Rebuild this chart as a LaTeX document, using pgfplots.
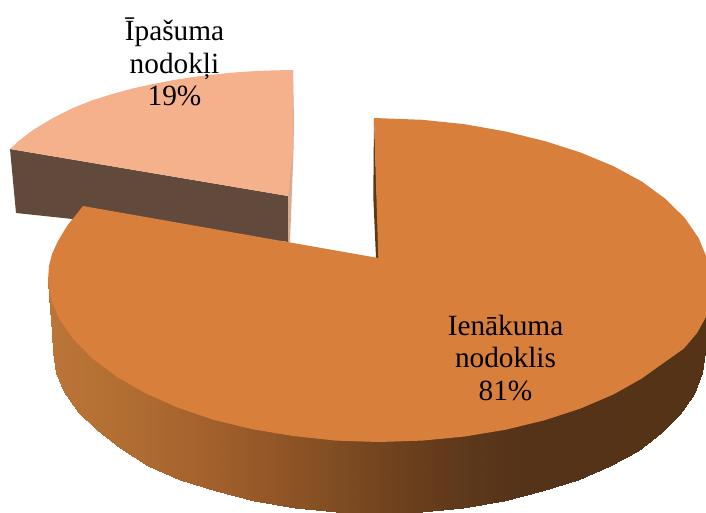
\documentclass[border=0pt]{standalone}
\usepackage{pgfplots}
\pgfplotsset{compat=1.18}
\usepackage{fontspec}
\setmainfont{Liberation Serif}
\definecolor{orangetop}{RGB}{216,127,60}
\definecolor{peach}{RGB}{244,177,139}
\definecolor{peachdark}{RGB}{97,73,59}
\definecolor{peachedge}{RGB}{217,170,142}
\definecolor{sliver}{RGB}{90,55,25}
\begin{document}
\begin{tikzpicture}
\begin{axis}[
  scale only axis, width=706pt, height=513pt,
  xmin=0, xmax=706, ymin=0, ymax=513, y dir=reverse,
  hide axis, clip=true,
  colormap={side}{rgb255(48)=(188,117,56) rgb255(120)=(178,110,50) rgb255(200)=(165,98,45) rgb255(260)=(150,88,40) rgb255(330)=(130,78,35) rgb255(370)=(118,70,32) rgb255(420)=(105,62,28) rgb255(480)=(90,54,26) rgb255(530)=(85,51,24) rgb255(706)=(85,51,23)},
  point meta min=48, point meta max=706,
]
% low-tax slice: wall, sliver, top
\addplot[fill=peachdark, draw=none] coordinates {(10,149) (288,196) (289,242) (16,213)} --cycle;
\addplot[fill=peachedge, draw=none] coordinates {(293,70) (294,120) (293.5,150) (290,242) (288,242) (288,196)} --cycle;
\addplot[fill=peach, draw=none] coordinates {(10,149) (18,141.5) (33,130) (53,118) (73,108) (93,100) (113,93.8) (133,88.4) (153,84) (173,80.2) (193,77) (213,74.6) (233,72.6) (253,71.2) (273,70.4) (293,70) (293,150) (288,196)} --cycle;
% main slice: inner sliver
\addplot[fill=sliver, draw=none] coordinates {(374,118) (373.3,197) (376,258) (379,258)} --cycle;
% main slice: outer wall
\addplot[surf, shader=interp, mesh/rows=2, point meta=x] table {
48 280
49 280
52 280
53 280
55.8 280
64.1 280
77.8 280
96.7 280
120.4 280
148.5 280
180.5 280
216 280
254.2 280
294.6 280
336.4 280
379 280
421.5 280
463.4 280
503.8 280
542 280
577.5 280
609.5 280
637.6 280
661.3 280
680.2 280
693.9 280
702.2 280
705 280
706 280

48 280
49 297
52 333
53 352
55.8 373
64.1 392
77.8 412
96.7 430
120.4 448
148.5 465.8
180.5 479.7
216 491.4
254.2 500.7
294.6 508
336.4 511.6
379 513
421.5 511.6
463.4 507.5
503.8 500.7
542 491.4
577.5 479.7
609.5 465.8
637.6 451
661.3 432.5
680.2 413.6
693.9 393.7
702.2 373
705 352
706 333
};
% main slice: top
\addplot[fill=orangetop, draw=none] coordinates {(374,118) (422.2,119.8) (464.7,124.2) (505.7,131.5) (544.5,141) (580.5,152.5) (613.1,166) (641.6,181.4) (665.6,199) (684.8,218) (698.7,238.1) (707.2,258.9) (711,280) (711,300) (706,317) (697,333) (684,348.5) (665.6,361.5) (641.6,378.6) (613.1,394.6) (580.5,408.5) (544.5,420.3) (505.7,429.7) (464.7,436.5) (422.2,440.6) (379,442) (335.8,440.6) (293.3,436) (252.3,429.2) (213.5,419.8) (177.5,407.5) (144.9,393) (116.4,376.5) (92.4,358.5) (73.2,339) (59.3,319) (50.8,299) (48,280) (49,266) (52,254) (58,241) (67,226) (83,206) (378.3,258)} --cycle;
\node[align=center, font=\fontsize{29.3}{32.7}\selectfont, text=black] at (axis cs:505.5,358) {Ienākuma\\nodoklis\\81\%};
\node[align=center, font=\fontsize{29.3}{32.7}\selectfont, text=black] at (axis cs:174.5,62) {Īpašuma\\nodokļi\\19\%};
\end{axis}
\useasboundingbox (current axis.south west) rectangle (current axis.north east);
\end{tikzpicture}
\end{document}
